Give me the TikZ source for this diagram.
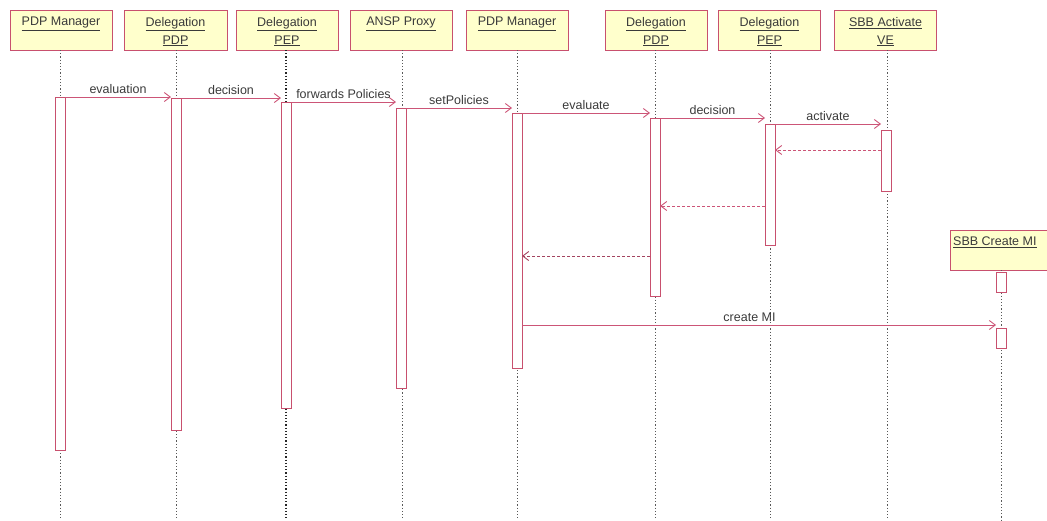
\documentclass[tikz,border=0pt]{standalone}
\usepackage{fontspec}
\setmainfont{Liberation Sans}
\usetikzlibrary{arrows.meta,calc}
\definecolor{boxfill}{HTML}{FFFFCC}
\definecolor{boxline}{HTML}{C8506E}
\definecolor{msgline}{HTML}{CC5577}
\definecolor{txt}{HTML}{3A3A3A}
\begin{document}
\begin{tikzpicture}[x=1pt,y=-1pt,
  font=\fontsize{12.5}{18}\selectfont, text=txt,
  hdr/.style={draw=boxline, line width=1pt, fill=boxfill, minimum width=102pt, minimum height=40pt, inner sep=0pt, outer sep=0pt},
  hdrtext/.style={anchor=north, align=center, inner sep=0pt, yshift=-7pt},
  life/.style={draw=black!65, line width=0.9pt, dash pattern=on 1.2pt off 2pt},
  bar/.style={draw=boxline, line width=0.9pt, fill=white, minimum width=10pt, inner sep=0pt, outer sep=0pt, anchor=north},
  msg/.style={draw=msgline, line width=0.9pt, -{Straight Barb[length=6pt,width=9pt]}},
  ret/.style={msg, dash pattern=on 3pt off 2pt},
  lab/.style={above=2pt, inner sep=1pt}]
\useasboundingbox (0,0) rectangle (1047,520);

% object header boxes
\node[hdr] (h1) at (61,30) {};
\node[hdr, minimum width=103pt] (h2) at (175.5,30) {};
\node[hdr] (h3) at (287,30) {};
\node[hdr] (h4) at (401,30) {};
\node[hdr] (h5) at (517,30) {};
\node[hdr] (h6) at (656,30) {};
\node[hdr] (h7) at (769.5,30) {};
\node[hdr] (h8) at (885.5,30) {};
\node[hdr] (h9) at (1001,250) {};

\node[hdrtext] (t1) at (h1.north) {\underline{PDP Manager}};
\node[hdrtext] (t2) at (h2.north) {\underline{Delegation}\\\underline{PDP}};
\node[hdrtext] (t3) at (h3.north) {\underline{Delegation}\\\underline{PEP}};
\node[hdrtext] (t4) at (h4.north) {\underline{ANSP Proxy}};
\node[hdrtext] (t5) at (h5.north) {\underline{PDP Manager}};
\node[hdrtext] (t6) at (h6.north) {\underline{Delegation}\\\underline{PDP}};
\node[hdrtext] (t7) at (h7.north) {\underline{Delegation}\\\underline{PEP}};
\node[hdrtext] (t8) at (h8.north) {\underline{SBB Activate}\\\underline{VE}};
\node[hdrtext, anchor=north west, xshift=-48pt] (t9) at (h9.north) {\underline{SBB Create MI}};

% lifelines
\coordinate (e1) at (60,520);
\coordinate (e2) at (176,520);
\coordinate (e3) at (286,520);
\coordinate (e4) at (402,520);
\coordinate (e5) at (517,520);
\coordinate (e6) at (655,520);
\coordinate (e7) at (770,520);
\coordinate (e8) at (887,520);
\coordinate (e9) at (1001,520);
\draw[life] (h1.south -| e1) -- (e1);
\draw[life] (h2.south -| e2) -- (e2);
\draw[life, draw=black!85, line width=1.3pt] (h3.south -| e3) -- (e3);
\draw[life] (h4.south -| e4) -- (e4);
\draw[life] (h5.south -| e5) -- (e5);
\draw[life] (h6.south -| e6) -- (e6);
\draw[life] (h7.south -| e7) -- (e7);
\draw[life] (h8.south -| e8) -- (e8);
\draw[life] (h9.south -| e9) -- (e9);

% activation bars
\node[bar, minimum height=353pt] (b1) at (60,97) {};
\node[bar, minimum height=332pt] (b2) at (176,98) {};
\node[bar, minimum height=306pt] (b3) at (286,102) {};
\node[bar, minimum height=280pt] (b4) at (401,108) {};
\node[bar, minimum height=255pt] (b5) at (517,113) {};
\node[bar, minimum height=178pt] (b6) at (655,118) {};
\node[bar, minimum height=121pt] (b7) at (770,124) {};
\node[bar, minimum height=61pt] (b8) at (886,130) {};
\node[bar, minimum height=20pt] (b9a) at (1001,272) {};
\node[bar, minimum height=20pt] (b9b) at (1001,328) {};

% synchronous calls
\draw[msg] (b1.north east) -- node[lab] {evaluation} (b1.north east -| b2.west);
\draw[msg] (b2.north east) -- node[lab] {decision} (b2.north east -| b3.west);
\draw[msg] (b3.north east) -- node[lab] {forwards Policies} (b3.north east -| b4.west);
\draw[msg] (b4.north east) -- node[lab] {setPolicies} (b4.north east -| b5.west);
\draw[msg] (b5.north east) -- node[lab] {evaluate} (b5.north east -| b6.west);
\draw[msg] (b6.north east) -- node[lab] {decision} (b6.north east -| b7.west);
\draw[msg] (b7.north east) -- node[lab] {activate} (b7.north east -| b8.west);

% returns
\draw[ret] ($(b8.north west)+(0,20)$) -- ($(b7.north east)+(0,26)$);
\draw[ret] ($(b7.north west)+(0,82)$) -- ($(b6.north east)+(0,88)$);
\draw[ret, draw=msgline!80!black] ($(b6.north west)+(0,138)$) -- ($(b5.north east)+(0,143)$);

% creation call
\coordinate (cm) at ($(b5.north east)+(0,212)$);
\draw[msg] (cm) -- node[lab, pos=0.48] {create MI} (cm -| b9b.west);
\end{tikzpicture}
\end{document}
